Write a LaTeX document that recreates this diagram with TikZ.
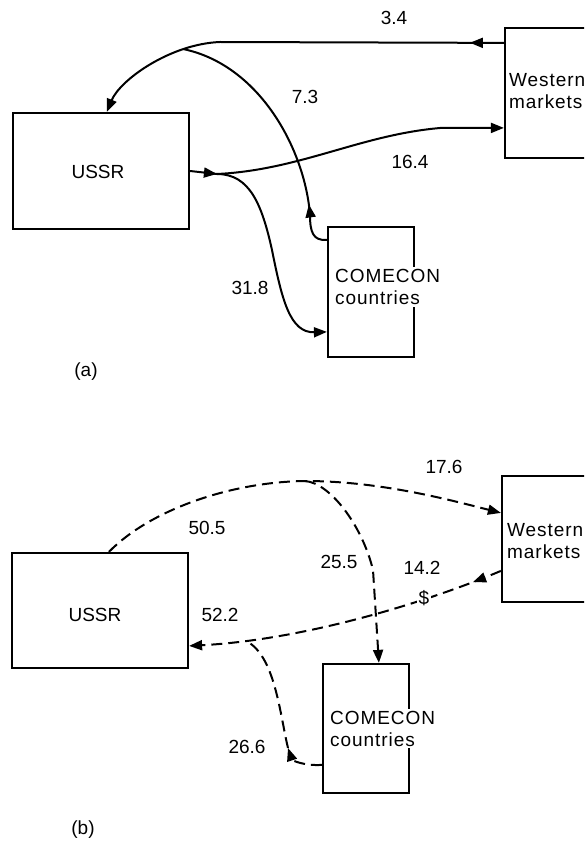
\documentclass[tikz,border=0pt]{standalone}
\usepackage{fontspec}
\setmainfont{Liberation Sans}
\newfontfamily\widefont[LetterSpace=5]{Liberation Sans}
\usetikzlibrary{arrows.meta,decorations.markings,calc}
\tikzset{bigtip/.tip={Triangle[length=13pt,width=10pt]}}
\begin{document}
\begin{tikzpicture}[x=1pt,y=-1pt,
  box/.style={draw,line width=2.2pt,inner sep=0pt},
  conn/.style={line width=2pt},
  dconn/.style={line width=2pt,dash pattern=on 11pt off 6pt},
  lbl/.style={font=\fontsize{19}{22}\selectfont,inner sep=0pt},
  boxtxt/.style={font=\widefont\fontsize{19}{22}\selectfont,align=left,anchor=west},
  midarrow/.style={postaction={decorate},decoration={markings,mark=at position #1 with {\arrow{bigtip}}}}]
\useasboundingbox (0,0) rectangle (584,845);
\fill[white] (0,0) rectangle (584,845);
\clip (0,0) rectangle (584,845);

% ---------- (a) ----------
\node[box,minimum width=176pt,minimum height=116pt] (USSRa) at (101,171) {};
\node[lbl] (USSRat) at (98,172) {USSR};
\node[box,minimum width=135pt,minimum height=130pt] (Wa) at (572.5,93) {};
\node[boxtxt,inner sep=0pt] (Wat) at (509,91.5) {Western\\markets};
\node[box,minimum width=86pt,minimum height=130pt] (Ca) at (371,292) {};
\node[boxtxt,fill=white,inner sep=2pt] (Cat) at (333,287) {COMECON\\countries};

\coordinate (m73) at (183,49);
\coordinate (j1) at (217,174);
\coordinate (k73) at (310,215);

\draw[conn,midarrow=34pt,-bigtip] ($(Wa.north west)+(0,16)$) -- (220,42)
  .. controls (170,44) and (120,80) .. ($(USSRa.north west)+(95,0)$);
\draw[conn,midarrow=46pt] ($(Ca.north west)+(0,14)$) .. controls (313,241) and (310,232) .. (k73)
  .. controls (305,150) and (260,65) .. (m73);
\draw[conn,midarrow=27pt,-bigtip] (USSRa.east) -- (j1) .. controls (300,170) and (360,135) .. (440,128)
  -- ($(Wa.north west)+(0,101)$);
\draw[conn,-bigtip] (j1) .. controls (250,174) and (262,205) .. (272,250)
  .. controls (282,300) and (290,333) .. ($(Ca.north west)+(0,106)$);

\node[lbl] (l34) at (394,18) {3.4};
\node[lbl] (l73) at (305,97) {7.3};
\node[lbl] (l164) at (410,162) {16.4};
\node[lbl] (l318) at (250,288) {31.8};
\node[lbl] (la) at (86,372) {(a)};

% ---------- (b) ----------
\node[box,minimum width=176pt,minimum height=115pt] (USSRb) at (100,610.5) {};
\node[lbl] (USSRbt) at (95,615) {USSR};
\node[box,minimum width=138pt,minimum height=126pt] (Wb) at (571,539) {};
\node[boxtxt,inner sep=0pt] (Wbt) at (507,541.5) {Western\\markets};
\node[box,minimum width=86pt,minimum height=129pt] (Cb) at (366,728.5) {};
\node[boxtxt,fill=white,inner sep=2pt] (Cbt) at (328,728.5) {COMECON\\countries};

\coordinate (pk) at (305,481);
\coordinate (j2) at (246,641);
\coordinate (k266) at (288,748);

\draw[dconn,-bigtip] ($(USSRb.north west)+(98,0)$) .. controls (150,510) and (230,482) .. (pk)
  .. controls (380,481) and (450,500) .. ($(Wb.north west)+(0,38)$);
\draw[dconn,-bigtip] (pk) .. controls (330,483) and (362,525) .. (373,570) -- ($(Cb.north west)+(57,0)$);
\draw[dconn,midarrow=30pt,-bigtip] ($(Wb.north west)+(0,96)$) .. controls (420,605) and (300,640) .. ($(USSRb.north east)+(0,94)$);
\draw[dconn,-bigtip] ($(Cb.north west)+(0,102)$) .. controls (303,766) and (292,760) .. (k266);
\draw[dconn] (k266) .. controls (280,715) and (275,655) .. (j2);

\node[lbl] (l176) at (444,467) {17.6};
\node[lbl] (l505) at (207,528) {50.5};
\node[lbl] (l255) at (339,562) {25.5};
\node[lbl] (l142) at (422,568) {14.2};
\node[lbl,fill=white,inner sep=2pt] (ldol) at (424,598) {\$};
\node[lbl] (l522) at (220,615) {52.2};
\node[lbl] (l266) at (247,747) {26.6};
\node[lbl] (lb) at (83,830) {(b)};
\end{tikzpicture}
\end{document}
